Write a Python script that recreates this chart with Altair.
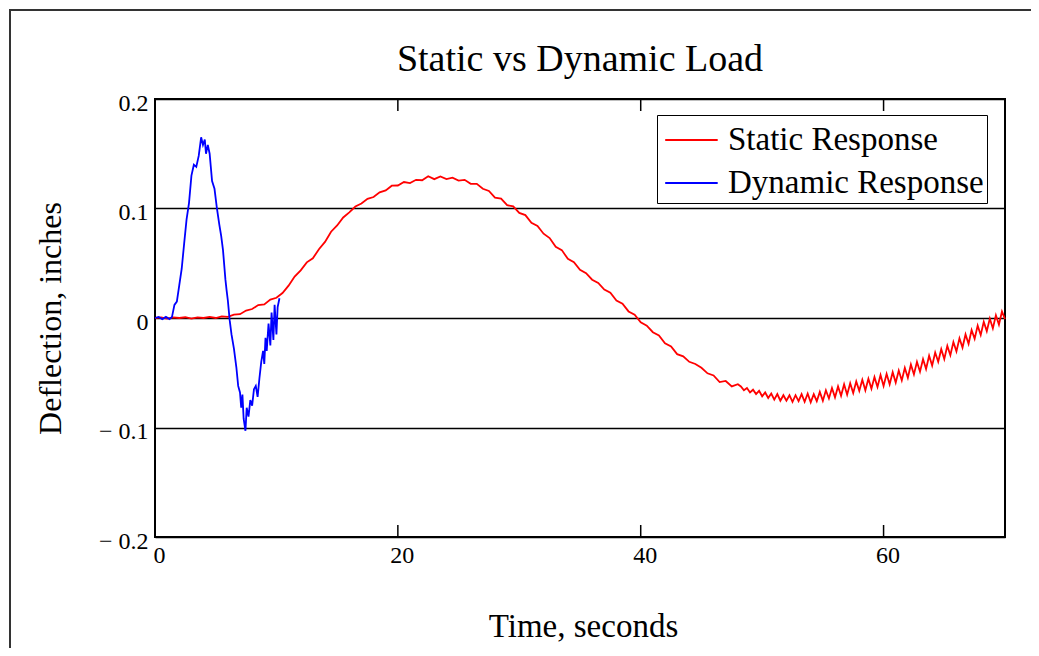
import altair as alt
import pandas as pd

# ---------------- data ----------------
static_time = [
    0, 0.5, 1, 1.5, 2, 2.5, 3, 3.5, 4, 4.5, 5, 5.5, 6, 6.5, 7, 7.5, 8, 8.5, 9, 9.5,
    10, 10.5, 11, 11.5, 12, 12.5, 13, 13.5, 14, 14.5, 15, 15.5, 16, 16.5, 17, 17.5, 18, 18.5, 19, 19.5,
    20, 20.5, 21, 21.5, 22, 22.5, 23, 23.5, 24, 24.5, 25, 25.5, 26, 26.5, 27, 27.5, 28, 28.5, 29, 29.5,
    30, 30.5, 31, 31.5, 32, 32.5, 33, 33.5, 34, 34.5, 35, 35.5, 36, 36.5, 37, 37.5, 38, 38.5, 39, 39.5,
    40, 40.5, 41, 41.5, 42, 42.5, 43, 43.5, 44, 44.5, 45, 45.5, 46, 46.5, 47, 47.5, 48,
    48.25, 48.5, 48.75, 49, 49.25, 49.5, 49.75, 50, 50.25, 50.5, 50.75, 51, 51.25, 51.5, 51.75,
    52, 52.25, 52.5, 52.75, 53, 53.25, 53.5, 53.75, 54, 54.25, 54.5, 54.75, 55, 55.25, 55.5, 55.75,
    56, 56.25, 56.5, 56.75, 57, 57.25, 57.5, 57.75, 58, 58.25, 58.5, 58.75, 59, 59.25, 59.5, 59.75,
    60, 60.25, 60.5, 60.75, 61, 61.25, 61.5, 61.75, 62, 62.25, 62.5, 62.75, 63, 63.25, 63.5, 63.75,
    64, 64.25, 64.5, 64.75, 65, 65.25, 65.5, 65.75, 66, 66.25, 66.5, 66.75, 67, 67.25, 67.5, 67.75,
    68, 68.25, 68.5, 68.75, 69, 69.25, 69.5, 69.75, 70,
]
static_defl = [
    0, 0.0005, -0.0005, 0.0005, 0, 0.0007, -0.0005, 0.0005, 0, 0.001,
    0, 0.0015, 0.001, 0.003, 0.0035, 0.0068, 0.0082, 0.0118, 0.0124, 0.0168,
    0.0185, 0.0228, 0.0295, 0.0378, 0.0435, 0.0508, 0.0545, 0.0628, 0.0695, 0.0788,
    0.0845, 0.0918, 0.0965, 0.1018, 0.1045, 0.1088, 0.1105, 0.1148, 0.1165, 0.1208,
    0.121, 0.1242, 0.1232, 0.1262, 0.1258, 0.1295, 0.1268, 0.1292, 0.1268, 0.1282,
    0.1255, 0.1262, 0.1225, 0.1225, 0.118, 0.116, 0.110, 0.109, 0.103, 0.102,
    0.096, 0.094, 0.087, 0.084, 0.077, 0.073, 0.065, 0.062, 0.054, 0.051,
    0.044, 0.041, 0.035, 0.032, 0.026, 0.023, 0.016, 0.013, 0.006, 0.003,
    -0.004, -0.007, -0.013, -0.016, -0.023, -0.026, -0.033, -0.035, -0.040, -0.042,
    -0.0455, -0.0505, -0.0525, -0.0585, -0.0575, -0.0625, -0.0605,
    -0.0625, -0.066, -0.064, -0.068, -0.0655, -0.0695, -0.0665, -0.0715, -0.068, -0.073,
    -0.069, -0.0745, -0.0695, -0.0755, -0.0705,
    -0.0755, -0.0705, -0.0765, -0.0705, -0.076, -0.0695, -0.0765, -0.069, -0.077, -0.0695,
    -0.076, -0.0675, -0.0755, -0.066, -0.0735, -0.064,
    -0.0725, -0.0625, -0.071, -0.0605, -0.070, -0.0595, -0.0685, -0.058, -0.0665, -0.0565,
    -0.066, -0.0555, -0.0645, -0.054, -0.063, -0.052,
    -0.062, -0.051, -0.0605, -0.0495, -0.059, -0.048, -0.057, -0.0455, -0.0545, -0.0425,
    -0.0515, -0.040, -0.049, -0.0375, -0.0465, -0.0345,
    -0.0435, -0.0315, -0.040, -0.0285, -0.0375, -0.0255, -0.034, -0.022, -0.0305, -0.0185,
    -0.027, -0.015, -0.0235, -0.011, -0.019, -0.007,
    -0.0155, -0.0035, -0.012, -0.0005, -0.0095, 0.0025, -0.006, 0.006, -0.001,
]

dynamic_time = [
    0, 0.3, 0.6, 0.9, 1.2, 1.4, 1.6, 1.8, 2.0, 2.2, 2.4, 2.6, 2.8, 3.0, 3.2, 3.4, 3.6, 3.8,
    3.95, 4.1, 4.2, 4.35, 4.5, 4.7, 4.9, 5.1, 5.3, 5.45, 5.6, 5.8, 5.9, 6.0, 6.15, 6.3, 6.5,
    6.7, 6.85, 7.0, 7.1, 7.2, 7.3, 7.45, 7.55, 7.7, 7.85, 8.0, 8.15, 8.3, 8.45, 8.6, 8.75,
    8.9, 9.0, 9.1, 9.2, 9.35, 9.5, 9.6, 9.75, 9.85, 10.0, 10.1, 10.25,
]
dynamic_defl = [
    0, 0.001, -0.001, 0.001, -0.001, 0.001, 0.012, 0.015, 0.030, 0.045, 0.068, 0.090, 0.105,
    0.130, 0.140, 0.138, 0.148, 0.165, 0.158, 0.163, 0.150, 0.158, 0.150, 0.125, 0.118, 0.100,
    0.085, 0.075, 0.062, 0.035, 0.025, 0.016, -0.002, -0.015, -0.028, -0.045, -0.062, -0.068,
    -0.082, -0.070, -0.092, -0.103, -0.082, -0.090, -0.075, -0.080, -0.065, -0.062, -0.072,
    -0.055, -0.040, -0.030, -0.042, -0.018, -0.030, -0.005, -0.025, 0.005, -0.020, 0.012,
    -0.015, 0.010, 0.018,
]

series_names = ["Static Response", "Dynamic Response"]
series_colors = ["#ff0000", "#0000ff"]
x_tick_values = [0, 20, 40, 60]
y_tick_values = [-0.2, -0.1, 0, 0.1, 0.2]
inner_tick_values = [20, 40, 60]

# ---------------- tables ----------------
df = pd.concat([
    pd.DataFrame({"time": static_time, "deflection": static_defl, "series": series_names[0]}),
    pd.DataFrame({"time": dynamic_time, "deflection": dynamic_defl, "series": series_names[1]}),
], ignore_index=True)
ticks_df = pd.DataFrame({"time": inner_tick_values})
frame_df = pd.DataFrame({"k": [0]})

FONT = "Liberation Serif"
W, H = 850, 438

x_scale = alt.Scale(domain=[0, 70], nice=False, zero=False)
y_scale = alt.Scale(domain=[-0.2, 0.2], nice=False, zero=False)

y_label_expr = ("datum.value < 0 ? '\u2212 ' + format(-datum.value, '.1f') : "
                "(datum.value == 0 ? '0' : format(datum.value, '.1f'))")

lines = alt.Chart(df).mark_line(strokeWidth=1.8).encode(
    x=alt.X("time:Q", scale=x_scale,
            axis=alt.Axis(values=x_tick_values, title="Time, seconds", grid=False,
                          domain=False, ticks=False, labelFont=FONT, labelFontSize=24,
                          labelColor="black", labelPadding=6, labelOffset=4,
                          labelFlush=False, labelBaseline="top",
                          titleFont=FONT, titleFontSize=33, titleFontWeight="normal",
                          titleColor="black", titleX=428, titleY=89,
                          titleBaseline="middle", titleAlign="center")),
    y=alt.Y("deflection:Q", scale=y_scale,
            axis=alt.Axis(values=y_tick_values, title="Deflection, inches", grid=True,
                          gridColor="black", gridWidth=1.5, gridOpacity=1,
                          domain=False, ticks=False, labelFont=FONT, labelFontSize=24,
                          labelColor="black", labelPadding=7, labelOffset=4,
                          labelFlush=False, labelExpr=y_label_expr,
                          titleFont=FONT, titleFontSize=32, titleFontWeight="normal",
                          titleColor="black", titleX=-105, titleY=219, titleAngle=270,
                          titleBaseline="middle", titleAlign="center")),
    color=alt.Color("series:N",
                    scale=alt.Scale(domain=series_names, range=series_colors),
                    sort=series_names,
                    legend=alt.Legend(title=None, orient="none", legendX=502, legendY=16,
                                      direction="vertical", strokeColor="black",
                                      fillColor="white", padding=3,
                                      symbolType="M-0.8,0H1.7", symbolSize=1764,
                                      symbolStrokeWidth=2, labelFont=FONT,
                                      labelFontSize=33, labelColor="black",
                                      labelOffset=24, rowPadding=4, labelLimit=500)),
)

top_ticks = alt.Chart(ticks_df).mark_rule(color="black", strokeWidth=1.5).encode(
    x=alt.X("time:Q", scale=x_scale), y=alt.value(0), y2=alt.value(12))
bottom_ticks = alt.Chart(ticks_df).mark_rule(color="black", strokeWidth=1.5).encode(
    x=alt.X("time:Q", scale=x_scale), y=alt.value(H - 12), y2=alt.value(H))

# outer figure frame: only its left and top edges fall inside the picture
frame_left = alt.Chart(frame_df).mark_rule(color="#333333", strokeWidth=2).encode(
    x=alt.value(-145), y=alt.value(-90), y2=alt.value(H + 300))
frame_top = alt.Chart(frame_df).mark_rule(color="#333333", strokeWidth=2).encode(
    x=alt.value(-146), x2=alt.value(W + 300), y=alt.value(-89))

chart = alt.layer(frame_left, frame_top, top_ticks, bottom_ticks, lines).properties(
    width=W, height=H,
    title=alt.Title("Static vs Dynamic Load", font=FONT, fontSize=38,
                    fontWeight="normal", color="black", anchor="middle",
                    frame="group", baseline="alphabetic", offset=0, dy=101),
    padding={"left": 147, "top": 91, "right": 26, "bottom": 111},
    autosize=alt.AutoSizeParams(type="none"),
    background="white",
).configure_view(stroke="black", strokeWidth=2)

chart.save("out.html", embed_options={"renderer": "svg", "actions": False})
